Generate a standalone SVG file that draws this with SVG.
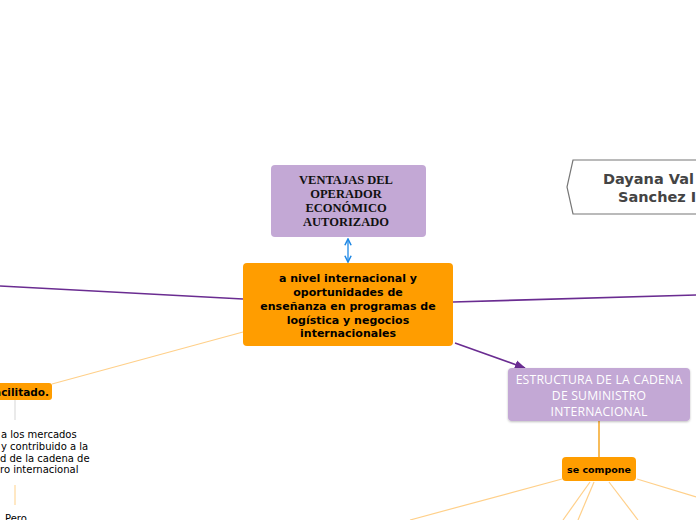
<svg xmlns="http://www.w3.org/2000/svg" width="696" height="520" viewBox="0 0 696 520">
<defs>
<style>
.purple{fill:#c3a8d5}
.orange{fill:#ff9d00}
.main{font-family:"DejaVu Sans",sans-serif;font-weight:bold;font-size:11px;fill:#000;text-anchor:middle}
.serif{font-family:"Liberation Serif",serif;font-weight:bold;font-size:12.5px;fill:#111;text-anchor:middle;letter-spacing:0px}
.white{font-family:"Open Sans",sans-serif;font-size:12.2px;fill:#fff;text-anchor:middle;letter-spacing:0.2px}
.small{font-family:"DejaVu Sans",sans-serif;font-size:10px;fill:#000}
.pl{stroke:#6a2c91;stroke-width:1.6;fill:none}
.lo{stroke:#ffd08a;stroke-width:1.2;fill:none}
</style>
<marker id="ap" viewBox="0 0 10 10" refX="9" refY="5" markerWidth="7" markerHeight="7" orient="auto"><path d="M0,1 L10,5 L0,9 Z" fill="#6a2c91"/></marker>
<marker id="ab" viewBox="0 0 10 10" refX="9" refY="5" markerWidth="6" markerHeight="6" orient="auto-start-reverse"><path d="M1,1 L9,5 L1,9" fill="none" stroke="#1e88e5" stroke-width="2"/></marker>
<filter id="sh" x="-10%" y="-10%" width="120%" height="130%"><feDropShadow dx="0" dy="1" stdDeviation="1" flood-opacity="0.25"/></filter>
</defs>
<rect width="696" height="520" fill="#fff"/>
<g id="connectors">
<line class="pl" x1="0" y1="286" x2="243" y2="299"/>
<line class="pl" x1="453" y1="302" x2="696" y2="295"/>
<line class="pl" x1="455" y1="343" x2="525" y2="368" marker-end="url(#ap)"/>
<line x1="348" y1="239" x2="348" y2="262" stroke="#1e88e5" stroke-width="1.3" marker-start="url(#ab)" marker-end="url(#ab)"/>
<line class="lo" x1="52" y1="384" x2="243" y2="332"/>
<line x1="15" y1="400" x2="15" y2="420" stroke="#e3e3e3" stroke-width="1.5"/>
<line x1="15" y1="485" x2="15" y2="505" stroke="#ffe0b0" stroke-width="1.5"/>
<line x1="599" y1="421" x2="599" y2="457" stroke="#f5a623" stroke-width="1.5"/>
<line class="lo" x1="562" y1="479" x2="410" y2="520"/>
<line class="lo" x1="590" y1="482" x2="563" y2="520"/>
<line class="lo" x1="594" y1="482" x2="578" y2="520"/>
<line class="lo" x1="609" y1="482" x2="638" y2="520"/>
<line class="lo" x1="637" y1="479" x2="696" y2="497"/>
</g>
<g id="node-ventajas">
<rect class="purple" x="271" y="165" width="155" height="72" rx="4"/>
<text class="serif" x="346" y="184">VENTAJAS DEL</text>
<text class="serif" x="346" y="198">OPERADOR</text>
<text class="serif" x="346" y="212">ECONÓMICO</text>
<text class="serif" x="346" y="226">AUTORIZADO</text>
</g>
<g id="node-central">
<rect class="orange" x="243" y="263" width="210" height="83" rx="4"/>
<text class="main" x="348" y="282">a nivel internacional y</text>
<text class="main" x="348" y="296">oportunidades de</text>
<text class="main" x="348" y="310">enseñanza en programas de</text>
<text class="main" x="348" y="324">logística y negocios</text>
<text class="main" x="348" y="337">internacionales</text>
</g>
<g id="node-dayana">
<path d="M700,160 L573,160 L567,187 L573,214 L700,214" fill="#fff" stroke="#777" stroke-width="1.2"/>
<text x="603" y="184" font-family="DejaVu Sans,sans-serif" font-weight="bold" font-size="14.5" fill="#444">Dayana Val</text>
<text x="618" y="202" font-family="DejaVu Sans,sans-serif" font-weight="bold" font-size="14.5" fill="#444">Sanchez I</text>
</g>
<g id="node-estructura">
<rect class="purple" x="508" y="368" width="182" height="53" rx="4" filter="url(#sh)"/>
<text class="white" x="599" y="384">ESTRUCTURA DE LA CADENA</text>
<text class="white" x="599" y="400">DE SUMINISTRO</text>
<text class="white" x="599" y="416">INTERNACIONAL</text>
</g>
<g id="node-secompone">
<rect class="orange" x="562" y="457" width="74" height="24" rx="4"/>
<text x="599" y="473" font-family="DejaVu Sans,sans-serif" font-weight="bold" font-size="9.5" fill="#000" text-anchor="middle">se compone</text>
</g>
<g id="node-facilitado">
<rect class="orange" x="-10" y="383" width="62" height="17" rx="3"/>
<text x="49" y="396" font-family="DejaVu Sans,sans-serif" font-weight="bold" font-size="10.5" fill="#000" text-anchor="end">acilitado.</text>
</g>
<g id="node-texto">
<text class="small" x="1" y="438">a los mercados</text>
<text class="small" x="1" y="450">y contribuido a la</text>
<text class="small" x="0" y="462">d de la cadena de</text>
<text class="small" x="0" y="473">ro internacional</text>
</g>
<g id="node-pero">
<text class="small" x="5" y="522">Pero</text>
</g>
</svg>
